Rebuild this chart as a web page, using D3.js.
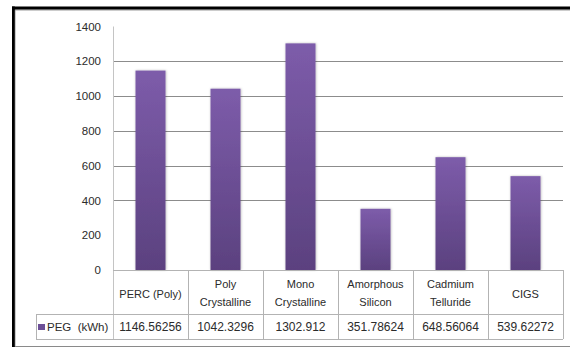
<!DOCTYPE html>
<html>
<head>
<meta charset="utf-8">
<script src="https://cdn.jsdelivr.net/npm/d3@7"></script>
<style>
  html, body { margin: 0; padding: 0; background: #fff; }
  svg { display: block; }
  text { font-family: "Liberation Sans", Arial, sans-serif; fill: #2b2b2b; }
</style>
</head>
<body>
<svg id="chart" width="570" height="347"></svg>
<script>
// Technologies (category lines split for the data-table header)
const categories = ["PERC (Poly)", "Poly Crystalline", "Mono Crystalline", "Amorphous Silicon", "Cadmium Telluride", "CIGS"];
const categoryLines = [["PERC (Poly)"], ["Poly", "Crystalline"], ["Mono", "Crystalline"], ["Amorphous", "Silicon"], ["Cadmium", "Telluride"], ["CIGS"]];
// Yearly energy generation per technology
const pegValues = [1146.56256, 1042.3296, 1302.912, 351.78624, 648.56064, 539.62272];
const pegLabels = ["1146.56256", "1042.3296", "1302.912", "351.78624", "648.56064", "539.62272"];
const seriesName = "PEG  (kWh)";
const yTicks = [0, 200, 400, 600, 800, 1000, 1200, 1400];
const gridValues = [400, 600, 800, 1000, 1200];

(function () {
const svg = d3.select("#chart");

const plotLeft = 113, plotRight = 563, plotTop = 26.5, base = 270;
const tableMid = 314, tableBottom = 339, legendLeft = 36;

const x = d3.scaleBand().domain(categories).range([plotLeft, plotRight]).paddingInner(0).paddingOuter(0);
const y = d3.scaleLinear().domain([0, 1400]).range([base, plotTop]);

// Bar fill gradient
const defs = svg.append("defs");
const grad = defs.append("linearGradient").attr("id", "barGrad")
  .attr("x1", 0).attr("y1", 0).attr("x2", 0).attr("y2", 1);
grad.append("stop").attr("offset", "0%").attr("stop-color", "#7d5caa");
grad.append("stop").attr("offset", "100%").attr("stop-color", "#5b417f");
const shadow = defs.append("filter").attr("id", "barShadow")
  .attr("x", "-30%").attr("y", "-5%").attr("width", "160%").attr("height", "110%");
shadow.append("feDropShadow").attr("dx", 0.5).attr("dy", 0).attr("stdDeviation", 1)
  .attr("flood-color", "#000").attr("flood-opacity", 0.3);

// Outer frame
svg.append("line").attr("x1", 12).attr("x2", 570).attr("y1", 346.5).attr("y2", 346.5)
  .attr("stroke", "#8a8a8a").attr("stroke-width", 1);
svg.append("rect").attr("x", 12).attr("y", 9.5).attr("width", 558).attr("height", 1).attr("fill", "#9a9a9a");
svg.append("rect").attr("x", 14.5).attr("y", 7).attr("width", 1).attr("height", 340).attr("fill", "#9a9a9a");
svg.append("rect").attr("x", 12).attr("y", 6.5).attr("width", 558).attr("height", 3).attr("fill", "#000");
svg.append("rect").attr("x", 12).attr("y", 6.5).attr("width", 2.8).attr("height", 340.5).attr("fill", "#000");

// Horizontal gridlines
svg.append("g")
  .selectAll("line").data(gridValues).join("line")
  .attr("x1", plotLeft).attr("x2", plotRight)
  .attr("y1", d => Math.round(y(d)) + 0.5).attr("y2", d => Math.round(y(d)) + 0.5)
  .attr("stroke", "#8c8c8c").attr("stroke-width", 1);

// Value axis labels
const yAxis = d3.axisLeft(y).tickValues(yTicks).tickSize(0).tickPadding(0).tickFormat(d3.format("d"));
const yg = svg.append("g").attr("transform", "translate(101,0)").call(yAxis);
yg.select(".domain").remove();
yg.selectAll("text").attr("font-size", 11.5).attr("fill", "#2b2b2b")
  .attr("font-family", "Liberation Sans, Arial, sans-serif");

// Vertical axis line
svg.append("line").attr("x1", plotLeft + 0.5).attr("x2", plotLeft + 0.5).attr("y1", plotTop).attr("y2", tableBottom)
  .attr("stroke", "#c4c4c4");

// Bars
const barW = x.bandwidth() * 0.4;
svg.append("g").selectAll("rect").data(pegValues).join("rect")
  .attr("x", (d, i) => x(categories[i]) + (x.bandwidth() - barW) / 2)
  .attr("y", d => y(d))
  .attr("width", barW)
  .attr("height", d => base - y(d))
  .attr("fill", "url(#barGrad)")
  .attr("filter", "url(#barShadow)");

// Data table grid
const tg = svg.append("g").attr("stroke", "#b3b3b3").attr("stroke-width", 1);
tg.append("line").attr("x1", plotLeft).attr("x2", plotRight).attr("y1", base + 0.5).attr("y2", base + 0.5);
tg.append("line").attr("x1", legendLeft).attr("x2", plotRight).attr("y1", tableMid + 0.5).attr("y2", tableMid + 0.5);
tg.append("line").attr("x1", legendLeft).attr("x2", plotRight).attr("y1", tableBottom + 0.5).attr("y2", tableBottom + 0.5);
tg.append("line").attr("x1", legendLeft + 0.5).attr("x2", legendLeft + 0.5).attr("y1", tableMid).attr("y2", tableBottom);
tg.selectAll("line.sep").data(categories).join("line")
  .attr("class", "sep")
  .attr("x1", d => Math.round(x(d) + x.bandwidth()) + 0.5)
  .attr("x2", d => Math.round(x(d) + x.bandwidth()) + 0.5)
  .attr("y1", base).attr("y2", tableBottom);

// Category header cells
const headG = svg.append("g");
categories.forEach((c, i) => {
  const lines = categoryLines[i];
  const cx = x(c) + x.bandwidth() / 2;
  const t = headG.append("text").attr("text-anchor", "middle").attr("font-size", 11);
  if (lines.length === 1) {
    t.append("tspan").attr("x", cx).attr("y", 298).text(lines[0]);
  } else {
    t.append("tspan").attr("x", cx).attr("y", 288).text(lines[0]);
    t.append("tspan").attr("x", cx).attr("y", 306).text(lines[1]);
  }
});

// Value row
svg.append("g").selectAll("text").data(pegLabels).join("text")
  .attr("x", (d, i) => x(categories[i]) + x.bandwidth() / 2)
  .attr("y", 331)
  .attr("text-anchor", "middle").attr("font-size", 12)
  .text(d => d);

// Legend key in the table
svg.append("rect").attr("x", 38).attr("y", 324).attr("width", 7).attr("height", 6).attr("fill", "#6c4f97");
svg.append("text").attr("x", 47).attr("y", 331).attr("font-size", 11.5)
  .style("white-space", "pre").text(seriesName);
})();
</script>
</body>
</html>
